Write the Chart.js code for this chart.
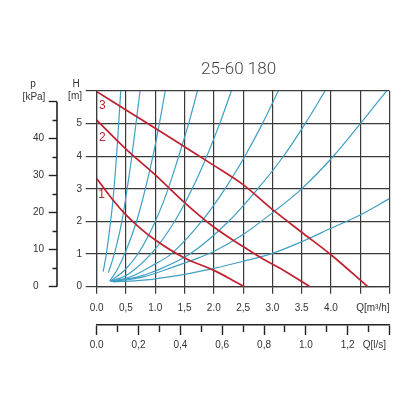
<!DOCTYPE html>
<html>
<head>
<meta charset="utf-8">
<title>25-60 180</title>
<script src="https://cdn.jsdelivr.net/npm/chart.js@4.4.1/dist/chart.umd.min.js"></script>
<style>
  html, body { margin: 0; padding: 0; background: #fff; }
</style>
</head>
<body>
<canvas id="pumpChart" width="416" height="416"></canvas>
<script>
// Pump curves for speed 1..3: flow Q [m3/h] and head H [m]
const speed1Q = [0, 0.25, 0.5, 0.75, 1.0, 1.5, 2.0, 2.25, 2.52];
const speed1H = [3.32, 2.72, 2.2, 1.78, 1.43, 0.88, 0.5, 0.27, 0];
const speed2Q = [0, 0.5, 1.0, 1.5, 2.0, 2.5, 2.82, 3.18, 3.64];
const speed2H = [5.11, 4.22, 3.43, 2.58, 1.83, 1.23, 0.87, 0.51, 0];
const speed3Q = [0, 0.5, 1.0, 1.5, 2.0, 2.5, 3.0, 3.5, 4.0, 4.63];
const speed3H = [5.98, 5.42, 4.86, 4.29, 3.72, 3.13, 2.37, 1.67, 0.98, 0];

// System curves (blue), from the steepest to the flattest
const systemQ = [
    [0.11, 0.16, 0.22, 0.28, 0.35, 0.41],
    [0.20, 0.30, 0.43, 0.52, 0.60, 0.67, 0.74],
    [0.22, 0.35, 0.50, 0.68, 0.83, 0.96, 1.07, 1.17],
    [0.23, 0.50, 0.72, 1.00, 1.22, 1.40, 1.57, 1.72],
    [0.24, 0.55, 0.95, 1.33, 1.63, 1.88, 2.10, 2.30],
    [0.25, 0.60, 1.00, 1.27, 1.79, 2.19, 2.53, 2.83, 3.10],
    [0.26, 0.70, 1.00, 1.59, 2.25, 2.75, 3.19, 3.56, 3.90],
    [0.27, 0.80, 1.30, 1.76, 2.00, 2.50, 3.01, 3.50, 4.04, 4.52, 4.95],
    [0.28, 0.80, 1.50, 2.00, 2.50, 3.00, 3.50, 4.00, 4.50, 5.00]
];
const systemH = [
    [0.46, 0.95, 1.75, 2.7, 4.3, 6.0],
    [0.43, 1.0, 2.0, 3.0, 4.0, 5.0, 6.0],
    [0.17, 0.52, 1.1, 2.0, 3.0, 4.0, 5.0, 6.0],
    [0.16, 0.55, 1.05, 2.0, 3.0, 4.0, 5.0, 6.0],
    [0.16, 0.4, 1.05, 2.0, 3.0, 4.0, 5.0, 6.0],
    [0.16, 0.32, 0.7, 1.0, 2.0, 3.0, 4.0, 5.0, 6.0],
    [0.16, 0.3, 0.48, 1.0, 2.0, 3.0, 4.0, 5.0, 6.0],
    [0.16, 0.3, 0.6, 0.9, 1.08, 1.6, 2.28, 3.0, 4.0, 5.04, 6.0],
    [0.15, 0.2, 0.38, 0.56, 0.78, 1.02, 1.38, 1.79, 2.2, 2.7]
];

// Tick labels, as printed on the sheet
const flowM3hTicks = ['0.0', '0,5', '1.0', '1,5', '2.0', '2,5', '3.0', '3.5', '4.0', '', ''];
const flowLsTicks = ['0.0', '', '0,2', '', '0,4', '', '0,6', '', '0,8', '', '1.0', '', '1,2', '', ''];
const headTicks = ['0', '1', '2', '3', '4', '5', ''];
const pressureTicks = ['0', '', '10', '', '20', '', '30', '', '40', '', ''];

// Speed numbers written next to the pump curves (Q, H)
const speedNames = ['3', '2', '1'];
const speedNameQ = [0.096, 0.096, 0.085];
const speedNameH = [5.55, 4.57, 2.81];

const red = '#c0212f';
const blue = '#3f9fc4';
const gridColor = '#3a3a3a';
const textColor = '#333';
const axisFont = { family: "'Liberation Sans', Arial, sans-serif", size: 10 };

function toPoints(qs, hs) {
    return qs.map((q, i) => ({ x: q, y: hs[i] }));
}

const datasets = [];
[[speed3Q, speed3H], [speed2Q, speed2H], [speed1Q, speed1H]].forEach(function(c) {
    datasets.push({
        data: toPoints(c[0], c[1]),
        borderColor: red,
        borderWidth: 1.7,
        pointRadius: 0,
        cubicInterpolationMode: 'monotone'
    });
});
systemQ.forEach(function(qs, i) {
    datasets.push({
        data: toPoints(qs, systemH[i]),
        borderColor: blue,
        borderWidth: 1.2,
        pointRadius: 0,
        cubicInterpolationMode: 'monotone'
    });
});

// Title, axis captions, speed numbers and the short kPa axis line
const captions = {
    id: 'captions',
    afterDraw(chart) {
        const ctx = chart.ctx;
        const { x, xLs, y, yP } = chart.scales;
        const area = chart.chartArea;
        ctx.save();

        ctx.strokeStyle = '#222';
        ctx.lineWidth = 1.6;
        ctx.beginPath();
        ctx.moveTo(yP.right, yP.getPixelForValue(0));
        ctx.lineTo(yP.right, yP.getPixelForValue(50));
        ctx.stroke();

        ctx.fillStyle = '#444';
        ctx.font = "300 17px Roboto, sans-serif";
        ctx.textAlign = 'center';
        ctx.textBaseline = 'middle';
        ctx.fillText('25-60 180', (area.left + area.right) / 2 - 4.5, area.top - 21);

        ctx.fillStyle = textColor;
        ctx.font = "10px 'Liberation Sans', Arial, sans-serif";
        ctx.textBaseline = 'alphabetic';
        ctx.textAlign = 'center';
        ctx.fillText('H', y.right - 20.5, area.top - 3.7);
        ctx.fillText('p', yP.left, area.top - 4);
        ctx.fillText('[kPa]', yP.left + 1, area.top + 8.5);
        ctx.textAlign = 'right';
        ctx.fillText('[m]', y.right - 14.7, area.top + 8);

        ctx.textBaseline = 'middle';
        ctx.fillText('Q[m\u00b3/h]', area.right, x.top + 21.3);
        ctx.fillText('Q[l/s]', area.right - 3.5, xLs.top + 20);

        ctx.fillStyle = red;
        ctx.font = "12px 'Liberation Sans', Arial, sans-serif";
        ctx.textAlign = 'center';
        speedNames.forEach(function(name, i) {
            ctx.fillText(name, x.getPixelForValue(speedNameQ[i]), y.getPixelForValue(speedNameH[i]));
        });
        ctx.restore();
    }
};

new Chart(document.getElementById('pumpChart').getContext('2d'), {
    type: 'line',
    data: { datasets: datasets },
    plugins: [captions],
    options: {
        responsive: false,
        animation: false,
        layout: { padding: { left: 33, top: 91, right: 26.5, bottom: 61 } },
        plugins: {
            legend: { display: false },
            tooltip: { enabled: false },
            title: { display: false }
        },
        scales: {
            x: {
                type: 'linear',
                position: 'bottom',
                weight: 0,
                min: 0,
                max: 5,
                ticks: {
                    stepSize: 0.5,
                    autoSkip: false,
                    maxRotation: 0,
                    padding: 8.3,
                    color: textColor,
                    font: axisFont,
                    callback: (v, i) => flowM3hTicks[i]
                },
                grid: { color: gridColor, lineWidth: 1.2, tickLength: 7, tickColor: gridColor, tickWidth: 1.2 },
                border: { color: gridColor, width: 1.2 },
                afterFit: s => { s.height = 38.3; }
            },
            xLs: {
                type: 'linear',
                position: 'bottom',
                weight: 1,
                min: 0,
                max: 1.4,
                ticks: {
                    stepSize: 0.1,
                    autoSkip: false,
                    maxRotation: 0,
                    padding: 4,
                    color: textColor,
                    font: axisFont,
                    callback: (v, i) => flowLsTicks[i]
                },
                grid: {
                    drawOnChartArea: false,
                    tickLength: 10,
                    tickColor: '#222',
                    tickWidth: 1.4,
                    tickBorderDash: ctx => (ctx.index % 2 ? [6.5, 20] : [])
                },
                border: { color: '#222', width: 1.6 },
                afterFit: s => { s.height = 30; }
            },
            y: {
                type: 'linear',
                position: 'left',
                weight: 0,
                min: 0,
                max: 6,
                ticks: {
                    stepSize: 1,
                    padding: 3.7,
                    color: textColor,
                    font: axisFont,
                    callback: (v, i) => headTicks[i]
                },
                grid: { color: gridColor, lineWidth: 1.2, tickLength: 11, tickColor: gridColor, tickWidth: 1.2 },
                border: { color: gridColor, width: 1.2 },
                afterFit: s => { s.width = 39.7; }
            },
            yP: {
                type: 'linear',
                position: 'left',
                weight: 1,
                min: 0,
                max: 52.9,
                ticks: {
                    stepSize: 5,
                    includeBounds: false,
                    crossAlign: 'far',
                    color: textColor,
                    font: axisFont,
                    callback: (v, i) => pressureTicks[i]
                },
                grid: {
                    drawOnChartArea: false,
                    tickLength: 8.3,
                    tickColor: '#222',
                    tickWidth: 1.4,
                    tickBorderDash: ctx => (ctx.index % 2 ? [0, 3.8, 20] : [])
                },
                border: { display: false },
                afterFit: s => { s.width = 24; }
            }
        }
    }
});
</script>
</body>
</html>
